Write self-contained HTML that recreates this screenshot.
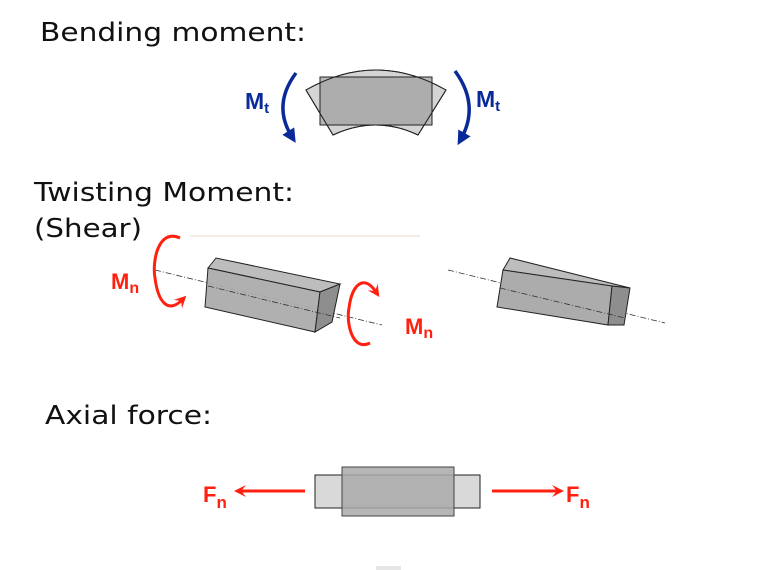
<!DOCTYPE html>
<html><head><meta charset="utf-8"><style>
html,body{margin:0;padding:0;background:#fff;width:759px;height:570px;overflow:hidden}
svg{display:block}
.h{font-family:"DejaVu Sans","Liberation Sans",sans-serif;font-size:26px;fill:#111}
.b{font-family:"Liberation Sans",sans-serif;font-weight:bold;fill:#0a2a9a;font-size:23px}
.r{font-family:"Liberation Sans",sans-serif;font-weight:bold;fill:#ff2010;font-size:22px}
</style></head><body>
<svg width="759" height="570" viewBox="0 0 759 570" xmlns="http://www.w3.org/2000/svg">
<defs>
<marker id="ab" viewBox="0 0 10 10" refX="5" refY="5" markerWidth="4" markerHeight="4" orient="auto"><path d="M0,0L10,5L0,10z" fill="#0a2a9a"/></marker>
<marker id="ar" viewBox="0 0 10 10" refX="5" refY="5" markerWidth="4" markerHeight="4" orient="auto"><path d="M0,0L10,5L0,10L4,5z" fill="#ff2010"/></marker>
</defs>
<text class="h" x="40" y="41" textLength="266" lengthAdjust="spacingAndGlyphs">Bending moment:</text>
<text class="h" x="34" y="201" textLength="260" lengthAdjust="spacingAndGlyphs">Twisting Moment:</text>
<text class="h" x="34" y="237" textLength="108" lengthAdjust="spacingAndGlyphs">(Shear)</text>
<text class="h" x="45" y="424" textLength="167" lengthAdjust="spacingAndGlyphs">Axial force:</text>

<!-- Bending -->
<path d="M306,90 Q376,50 446,90 L418,135 Q376,115 333,135 Z" fill="#d4d4d4" stroke="#222" stroke-width="1"/>
<rect x="320" y="77" width="112" height="48" fill="#a0a0a0" fill-opacity="0.75" stroke="#222" stroke-width="1"/>
<path d="M306,90 Q376,50 446,90 L418,135 Q376,115 333,135 Z" fill="none" stroke="#222" stroke-width="1"/>
<path d="M296,73 Q272,105 292,137" fill="none" stroke="#0a2a9a" stroke-width="3.5" marker-end="url(#ab)"/>
<path d="M455,71 Q480,105 461,139" fill="none" stroke="#0a2a9a" stroke-width="3.5" marker-end="url(#ab)"/>
<text class="b" x="245" y="109">M<tspan font-size="15" dy="4">t</tspan></text>
<text class="b" x="476" y="107">M<tspan font-size="15" dy="4">t</tspan></text>

<!-- Twisting box 1 -->
<line x1="155" y1="270" x2="382" y2="325" stroke="#333" stroke-width="0.8" stroke-dasharray="6,2,1,2"/>
<polygon points="208,268 216,258 340,284 320,292" fill="#bdbdbd" stroke="#222"/>
<polygon points="208,268 320,292 315,332 205,307" fill="#acacac" fill-opacity="0.95" stroke="#222"/>
<polygon points="320,292 340,284 332,322 315,332" fill="#8e8e8e" stroke="#222"/>
<line x1="208" y1="286" x2="340" y2="318" stroke="#333" stroke-width="0.8" stroke-dasharray="6,2,1,2"/>
<path d="M180,238 C158,228 152,262 155,278 C158,302 168,314 182,300" fill="none" stroke="#ff2010" stroke-width="3" marker-end="url(#ar)"/>
<path d="M370,343 C352,352 346,322 349,308 C352,284 364,274 376,292" fill="none" stroke="#ff2010" stroke-width="3" marker-end="url(#ar)"/>
<text class="r" x="111" y="289">M<tspan font-size="16" dy="4">n</tspan></text>
<text class="r" x="405" y="334">M<tspan font-size="16" dy="4">n</tspan></text>
<line x1="190" y1="236" x2="420" y2="236" stroke="#f4ece9" stroke-width="2"/>

<!-- Twisting box 2 -->
<line x1="448" y1="270" x2="665" y2="323" stroke="#333" stroke-width="0.8" stroke-dasharray="6,2,1,2"/>
<polygon points="503,270 510,258 630,288 612,286" fill="#bdbdbd" stroke="#222"/>
<polygon points="503,270 612,286 608,325 497,307" fill="#acacac" stroke="#222"/>
<polygon points="612,286 630,288 624,325 608,325" fill="#8e8e8e" stroke="#222"/>
<line x1="500" y1="288" x2="625" y2="318" stroke="#333" stroke-width="0.8" stroke-dasharray="6,2,1,2"/>

<!-- Axial -->
<rect x="315" y="475" width="165" height="33" fill="#d9d9d9" stroke="#222"/>
<rect x="342" y="467" width="112" height="49" fill="#a9a9a9" fill-opacity="0.85" stroke="#444"/>
<line x1="305" y1="491" x2="240" y2="491" stroke="#ff2010" stroke-width="3" marker-end="url(#ar)"/>
<line x1="492" y1="491" x2="558" y2="491" stroke="#ff2010" stroke-width="3" marker-end="url(#ar)"/>
<text class="r" x="203" y="502" font-size="24">F<tspan font-size="17" dy="6">n</tspan></text>
<text class="r" x="566" y="502" font-size="24">F<tspan font-size="17" dy="6">n</tspan></text>
<rect x="376" y="566" width="25" height="4" fill="#e6e6e6"/>
</svg>
</body></html>
